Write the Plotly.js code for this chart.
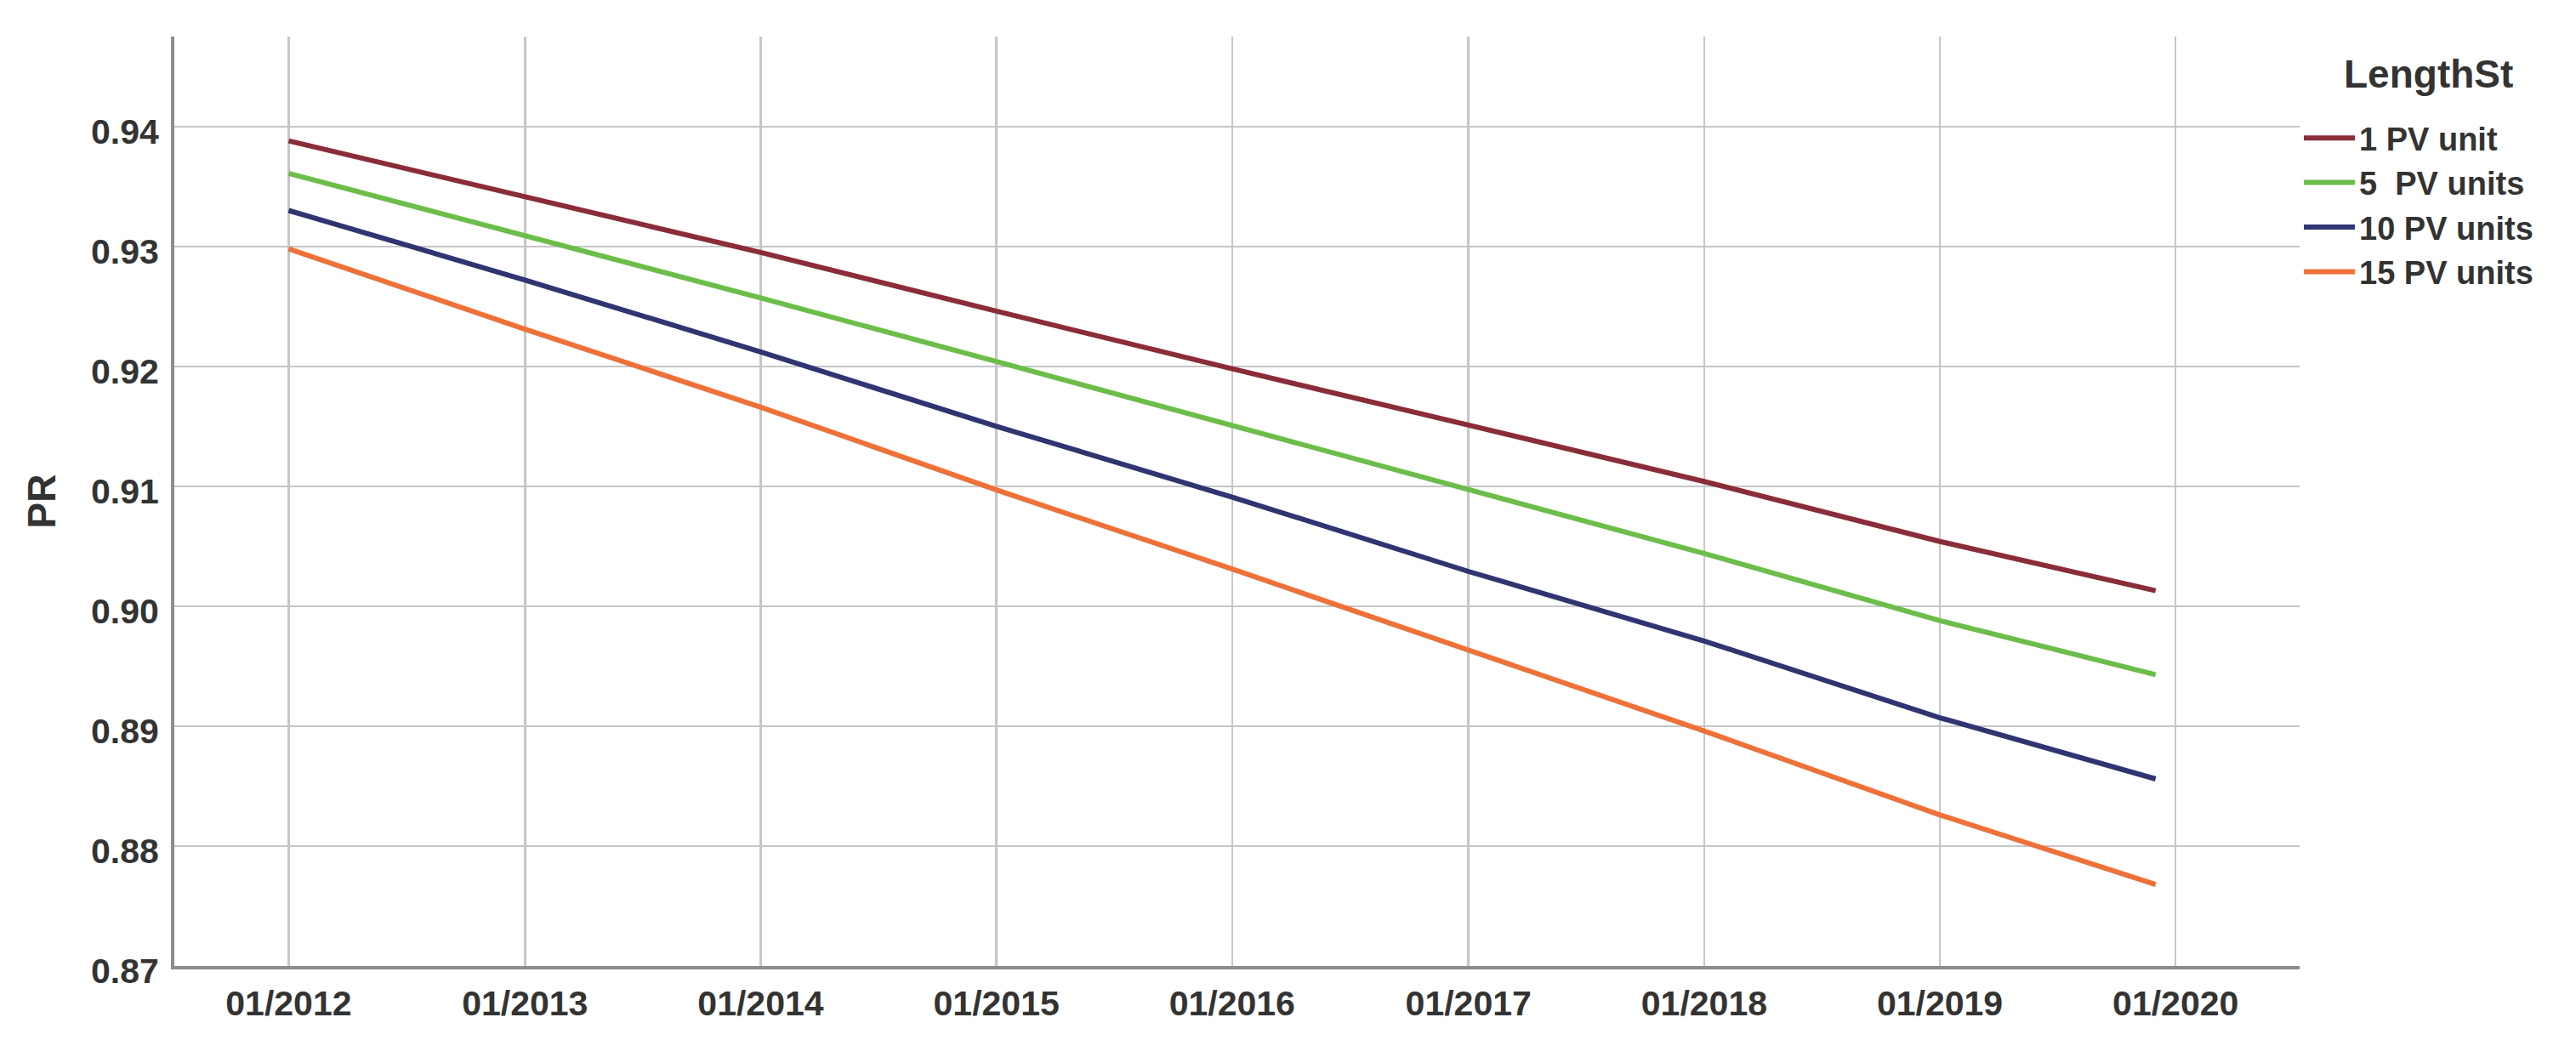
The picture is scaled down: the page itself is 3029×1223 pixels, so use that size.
<!DOCTYPE html>
<html>
<head>
<meta charset="utf-8">
<script src="https://cdn.plot.ly/plotly-3.0.1.min.js"></script>
<style>html,body{margin:0;padding:0;background:#fff;}#chart{width:3029px;height:1223px;}</style>
</head>
<body>
<div id="chart"></div>
<script>
// ---- data ----
const dates = ['2012-01-01','2013-01-01','2014-01-01','2015-01-01','2016-01-01','2017-01-01','2018-01-01','2019-01-01','2019-12-01'];
const pv1  = [0.9388, 0.9341, 0.9295, 0.9246, 0.9198, 0.9151, 0.9104, 0.9054, 0.9013];
const pv5  = [0.9361, 0.9309, 0.9257, 0.9204, 0.9151, 0.9097, 0.9044, 0.8988, 0.8943];
const pv10 = [0.9330, 0.9272, 0.9212, 0.9150, 0.9091, 0.9029, 0.8971, 0.8907, 0.8856];
const pv15 = [0.9298, 0.9231, 0.9166, 0.9097, 0.9031, 0.8963, 0.8896, 0.8826, 0.8768];
const seriesNames = ['1 PV unit', '5\u00a0 PV units', '10 PV units', '15 PV units'];
const legendTitle = 'LengthSt';
const xTickVals = ['2012-01-01','2013-01-01','2014-01-01','2015-01-01','2016-01-01','2017-01-01','2018-01-01','2019-01-01','2020-01-01'];
const xTickText = ['01/2012','01/2013','01/2014','01/2015','01/2016','01/2017','01/2018','01/2019','01/2020'];
const yTickVals = [0.87, 0.88, 0.89, 0.90, 0.91, 0.92, 0.93, 0.94];
const yTickText = ['0.87','0.88','0.89','0.90','0.91','0.92','0.93','0.94'];

const colors = ['#8a2d38', '#6cbd4a', '#2f3570', '#ee7139'];
const values = [pv1, pv5, pv10, pv15];
const FONT = 'Liberation Sans, Arial, sans-serif';
const TXT = '#333333';

const traces = values.map((v, i) => ({
  type: 'scatter', mode: 'lines', x: dates, y: v, name: seriesNames[i],
  line: {color: colors[i], width: 6}
}));

const layout = {
  width: 3029, height: 1223,
  margin: {l: 205, r: 325, t: 43, b: 87, pad: 0},
  paper_bgcolor: '#ffffff', plot_bgcolor: '#ffffff',
  font: {family: FONT, color: TXT},
  showlegend: true,
  legend: {
    x: 1.0, xanchor: 'left', y: 0.9195, yanchor: 'top',
    font: {family: FONT, size: 38, color: TXT, weight: 'bold'},
    bgcolor: 'rgba(0,0,0,0)', borderwidth: 0, itemwidth: 60
  },
  annotations: [{
    text: legendTitle, xref: 'paper', yref: 'paper',
    x: 1.0608, y: 0.9597, xanchor: 'center', yanchor: 'middle', showarrow: false,
    font: {family: FONT, size: 46, color: TXT, weight: 'bold'}
  }],
  xaxis: {
    type: 'date', range: ['2011-07-08', '2020-07-11'],
    tickvals: xTickVals, ticktext: xTickText,
    tickfont: {family: FONT, size: 41, color: TXT, weight: 'bold'},
    showgrid: true, gridcolor: '#c6c6c6', gridwidth: 2.5,
    showline: true, linecolor: '#8c8c8c', linewidth: 4,
    ticks: '', zeroline: false, ticklabelstandoff: 5
  },
  yaxis: {
    range: [0.87, 0.9475],
    tickvals: yTickVals, ticktext: yTickText,
    tickfont: {family: FONT, size: 41, color: TXT, weight: 'bold'},
    showgrid: true, gridcolor: '#c6c6c6', gridwidth: 2.5,
    showline: true, linecolor: '#8c8c8c', linewidth: 4,
    ticks: '', zeroline: false, ticklabelstandoff: 6, ticklabelshift: 6,
    title: {text: 'PR', font: {family: FONT, size: 46, color: TXT, weight: 'bold'}, standoff: 28}
  }
};

Plotly.newPlot('chart', traces, layout, {displayModeBar: false, staticPlot: true});
</script>
</body>
</html>
